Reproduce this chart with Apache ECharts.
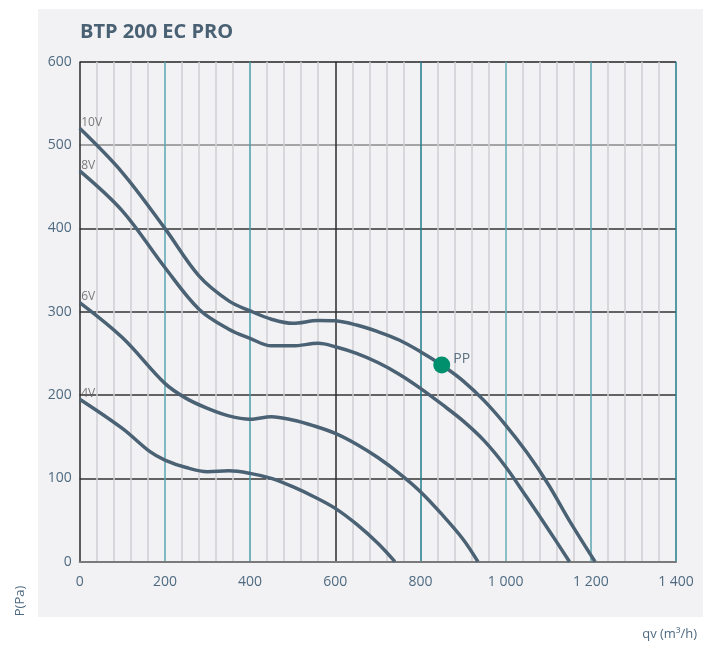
<!DOCTYPE html>
<html><head><meta charset="utf-8">
<script src="https://cdn.jsdelivr.net/npm/echarts@6/dist/echarts.min.js"></script>
<style>html,body{margin:0;padding:0;background:#fff;}#c{width:710px;height:645px;}</style>
</head><body><div id="c"></div>
<script>
const titleText = 'BTP 200 EC PRO';
const xTicks = [0, 200, 400, 600, 800, 1000, 1200, 1400];
const yTicks = [0, 100, 200, 300, 400, 500, 600];
const curve10V = [[0,520],[100,467],[200,400],[280,343],[350,313],[400,301],[450,291],[500,286],[560,289.5],[600,289],[650,284],[700,276],[750,266],[800,252],[850,236],[900,217],[950,193],[1000,164],[1050,131],[1100,93],[1150,49],[1210,0]];
const curve8V = [[0,469],[100,421],[200,353],[280,303],[350,279],[400,268],[450,259],[500,259],[560,262],[600,258],[650,250],[700,239],[750,225],[800,208],[850,189],[900,169],[950,145],[1000,114],[1050,77],[1100,39],[1150,0]];
const curve6V = [[0,311],[100,269],[200,214],[250,196],[300,184],[350,175],[400,171],[450,174],[500,170],[550,163],[600,154],[650,141],[700,125],[750,106],[800,84],[850,57],[900,27],[935,0]];
const curve4V = [[0,195],[100,160],[165,132],[200,122],[250,113],[300,108],[350,109],[400,106],[450,100],[500,90],[550,78],[600,64],[650,45],[700,22],[740,0]];
const curveNames = ['10V','8V','6V','4V'];
const pointPP = [850, 236];

const curves = [curve10V, curve8V, curve6V, curve4V];
const chart = echarts.init(document.getElementById('c'));
const lineColor = '#4b6275';
const fontFam = '"Open Sans", "Noto Sans", sans-serif';
const series = curves.map((d, i) => ({
  name: curveNames[i], type: 'line', data: d, smooth: 0.35, showSymbol: false,
  lineStyle: {color: lineColor, width: 3.5}, z: 3, silent: true
}));
series.push({
  type: 'scatter', symbolSize: 1, itemStyle: {color: 'rgba(0,0,0,0)'},
  data: curves.map((d, i) => ({value: d[0], name: curveNames[i]})),
  label: {show: true, formatter: p => p.name, position: [2, -11], color: '#5a5a5a', fontSize: 12, fontFamily: fontFam},
  z: 4, silent: true
});
series.push({
  type: 'scatter', symbolSize: 17, data: [{value: pointPP, name: 'PP'}],
  itemStyle: {color: '#00906e', opacity: 1},
  label: {show: true, formatter: 'PP', position: 'right', distance: 3, offset: [0, -6], color: '#5a7080', fontSize: 14, fontFamily: fontFam},
  z: 5, silent: true
});

chart.setOption({
  animation: false,
  backgroundColor: '#ffffff',
  graphic: [
    {type: 'rect', shape: {x: 38, y: 9, width: 665, height: 608}, style: {fill: '#f2f2f4'}, z: -10, silent: true},
    {type: 'text', left: 80, top: 22, style: {text: titleText, fill: '#4a6174', font: 'bold 20px ' + fontFam}, z: 10},
    {type: 'text', x: 20, y: 601, rotation: Math.PI / 2, style: {text: 'P(Pa)', fill: '#4f6a80', font: '13px ' + fontFam, align: 'center', verticalAlign: 'middle'}, z: 10},
    {type: 'text', right: 13, top: 628, style: {text: 'qv (m³/h)', fill: '#4f6a80', font: '13px ' + fontFam}, z: 10}
  ],
  grid: {left: 79.7, top: 61.7, width: 596.3, height: 500, containLabel: false},
  xAxis: {
    type: 'value', min: xTicks[0], max: xTicks[xTicks.length - 1], interval: 200,
    axisLine: {show: true, lineStyle: {color: '#7a7a7a', width: 2}},
    axisTick: {show: false},
    axisLabel: {color: '#4f6a80', fontSize: 14, fontFamily: fontFam, margin: 13,
      formatter: v => v >= 1000 ? Math.floor(v / 1000) + ' ' + String(v % 1000).padStart(3, '0') : String(v)},
    splitLine: {show: true, lineStyle: {color: ['#2a2a2a', '#5aa6b1', '#4a9eaa', '#2a2a2a', '#1f7d8a', '#6aacb6', '#5aa6b1', '#1f7d8a'], width: 1.5}},
    minorTick: {show: false, splitNumber: 5},
    minorSplitLine: {show: true, lineStyle: {color: '#cfd0d4', width: 1.5}}
  },
  yAxis: {
    type: 'value', min: yTicks[0], max: yTicks[yTicks.length - 1], interval: 100,
    axisLine: {show: false},
    axisTick: {show: false},
    axisLabel: {color: '#4f6a80', fontSize: 14, fontFamily: fontFam, margin: 8},
    splitLine: {show: true, lineStyle: {color: ['#7a7a7a', '#333333', '#333333', '#333333', '#333333', '#8a8a8a', '#222222'], width: 1.5}}
  },
  series: series
});
</script></body></html>
